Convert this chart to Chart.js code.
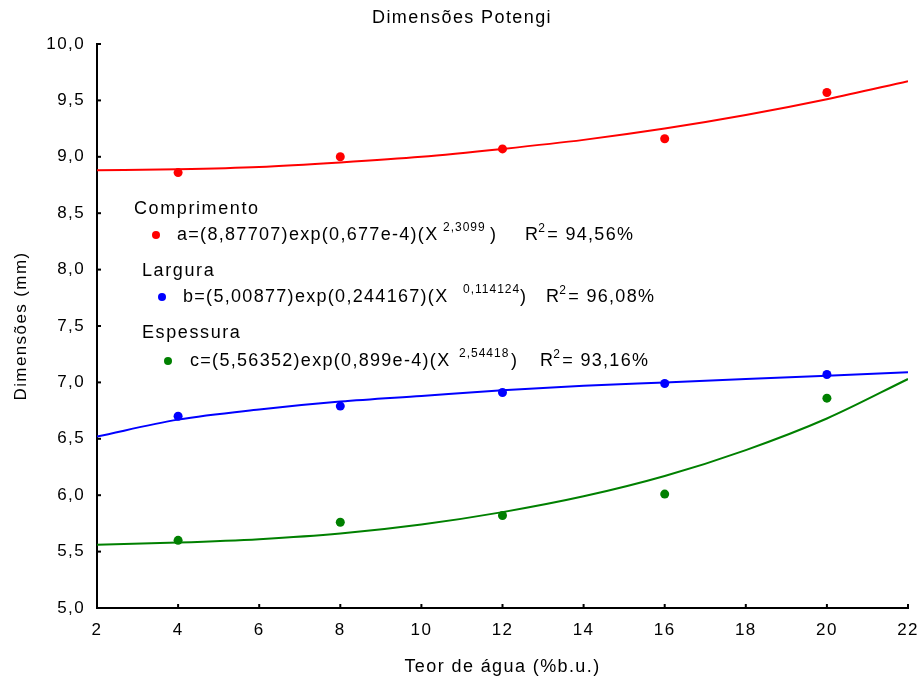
<!DOCTYPE html>
<html>
<head>
<meta charset="utf-8">
<title>Dimensões Potengi</title>
<script src="https://cdn.jsdelivr.net/npm/chart.js@4.4.0/dist/chart.umd.min.js"></script>
<style>
    html, body { margin: 0; padding: 0; background: #fff; }
    canvas { display: block; }
</style>
</head>
<body>
<canvas id="chart" width="924" height="686"></canvas>
<script>
// Observed values (teor de água, %b.u.)
const sampleX = [4, 8, 12, 16, 20];
const comprimento = [8.86, 9.00, 9.07, 9.16, 9.57];
const largura = [6.70, 6.79, 6.91, 6.99, 7.07];
const espessura = [5.60, 5.76, 5.82, 6.01, 6.86];

// Fitted curves, every 2 units
const fitX = [2, 4, 6, 8, 10, 12, 14, 16, 18, 20, 22];
const fitComprimento = [8.88, 8.89, 8.91, 8.95, 9.00, 9.07, 9.15, 9.25, 9.37, 9.51, 9.67];
const fitLargura = [6.52, 6.67, 6.76, 6.83, 6.88, 6.93, 6.97, 7.00, 7.03, 7.06, 7.09];
const fitEspessura = [5.56, 5.58, 5.61, 5.66, 5.74, 5.85, 5.99, 6.17, 6.40, 6.68, 7.03];

// Legend / equation labels
const seriesNames = ['Comprimento', 'Largura', 'Espessura'];
const seriesColors = ['#ff0000', '#0000ff', '#008000'];
const equations = ['a=(8,87707)exp(0,677e-4)(X', 'b=(5,00877)exp(0,244167)(X', 'c=(5,56352)exp(0,899e-4)(X'];
const exponents = ['2,3099', '0,114124', '2,54418'];
const r2Values = ['94,56%', '96,08%', '93,16%'];

const FONT = 'Liberation Sans, Arial, sans-serif';

function pts(xs, ys) {
    return xs.map((x, i) => ({ x: x, y: ys[i] }));
}

// Function to build a fitted curve dataset
function fitLine(ys, color) {
    return {
        data: pts(fitX, ys),
        borderColor: color,
        borderWidth: 2,
        pointRadius: 0,
        cubicInterpolationMode: 'monotone',
        fill: false
    };
}

// Function to build an observed points dataset
function dots(ys, color) {
    return {
        data: pts(sampleX, ys),
        showLine: false,
        pointRadius: 4.5,
        pointBackgroundColor: color,
        pointBorderColor: color,
        pointBorderWidth: 0
    };
}

// letter spacing like the original export
const spacing = {
    id: 'spacing',
    beforeUpdate(chart) { chart.ctx.letterSpacing = '1.4px'; },
    beforeDraw(chart) { chart.ctx.letterSpacing = '1.4px'; }
};

// inward ticks on left and bottom axes
const innerTicks = {
    id: 'innerTicks',
    afterDatasetsDraw(chart) {
        const ctx = chart.ctx;
        const { left, bottom } = chart.chartArea;
        ctx.save();
        ctx.strokeStyle = '#000';
        ctx.lineWidth = 2;
        chart.scales.x.ticks.forEach(t => {
            const px = chart.scales.x.getPixelForValue(t.value);
            ctx.beginPath();
            ctx.moveTo(px, bottom);
            ctx.lineTo(px, bottom - 4);
            ctx.stroke();
        });
        chart.scales.y.ticks.forEach(t => {
            const py = chart.scales.y.getPixelForValue(t.value);
            ctx.beginPath();
            ctx.moveTo(left, py);
            ctx.lineTo(left + 4, py);
            ctx.stroke();
        });
        ctx.restore();
    }
};

// equation annotations inside the plot
const equationsBox = {
    id: 'equationsBox',
    afterDraw(chart) {
        const ctx = chart.ctx;
        const rows = [
            { nameX: 134, nameY: 209, dotX: 156, eqX: 177, y: 235, supX: 443, closeX: 490, rX: 525 },
            { nameX: 142, nameY: 271, dotX: 162, eqX: 183, y: 297, supX: 463, closeX: 520, rX: 546 },
            { nameX: 142, nameY: 333, dotX: 168, eqX: 190, y: 361, supX: 459, closeX: 511, rX: 540 }
        ];
        ctx.save();
        ctx.fillStyle = '#000';
        ctx.textBaseline = 'middle';
        ctx.textAlign = 'left';
        rows.forEach((r, i) => {
            ctx.font = '18px ' + FONT;
            ctx.letterSpacing = '1.6px';
            ctx.fillStyle = '#000';
            ctx.fillText(seriesNames[i], r.nameX, r.nameY);
            ctx.letterSpacing = '1.3px';
            ctx.fillText(equations[i], r.eqX, r.y);
            ctx.fillText(')', r.closeX, r.y);
            ctx.fillText('R', r.rX, r.y);
            const rw = ctx.measureText('R').width;
            ctx.fillText('= ' + r2Values[i], r.rX + rw + 8, r.y);
            ctx.font = '12px ' + FONT;
            ctx.letterSpacing = '1px';
            ctx.fillText(exponents[i], r.supX, r.y - 7);
            ctx.letterSpacing = '0px';
            ctx.fillText('2', r.rX + rw - 1, r.y - 6);
            ctx.fillStyle = seriesColors[i];
            ctx.beginPath();
            ctx.arc(r.dotX, r.y, 4, 0, Math.PI * 2);
            ctx.fill();
        });
        ctx.restore();
    }
};

new Chart(document.getElementById('chart'), {
    type: 'line',
    data: {
        datasets: [
            fitLine(fitComprimento, seriesColors[0]),
            fitLine(fitLargura, seriesColors[1]),
            fitLine(fitEspessura, seriesColors[2]),
            dots(comprimento, seriesColors[0]),
            dots(largura, seriesColors[1]),
            dots(espessura, seriesColors[2])
        ]
    },
    options: {
        responsive: false,
        animation: false,
        devicePixelRatio: 1,
        layout: { padding: 0 },
        plugins: {
            legend: { display: false },
            tooltip: { enabled: false },
            title: {
                display: true,
                text: 'Dimensões Potengi',
                color: '#000',
                font: { family: FONT, size: 18, weight: 'normal', lineHeight: 1.2 },
                padding: { top: 7, bottom: 15.4 }
            }
        },
        scales: {
            x: {
                type: 'linear',
                min: 2,
                max: 22,
                ticks: {
                    stepSize: 2,
                    color: '#000',
                    padding: 12,
                    maxRotation: 0,
                    font: { family: FONT, size: 17 }
                },
                grid: { display: false, drawTicks: false },
                border: { display: true, color: '#000', width: 2 },
                title: {
                    display: true,
                    text: 'Teor de água (%b.u.)',
                    color: '#000',
                    font: { family: FONT, size: 18 },
                    padding: { top: 0, bottom: 8 }
                },
                afterFit(scale) {
                    scale.height = 78;
                    scale.paddingLeft = 0;
                    scale.paddingRight = 16;
                }
            },
            y: {
                min: 5,
                max: 10,
                ticks: {
                    stepSize: 0.5,
                    color: '#000',
                    padding: 12,
                    font: { family: FONT, size: 17 },
                    callback: v => v.toFixed(1).replace('.', ',')
                },
                grid: { display: false, drawTicks: false },
                border: { display: true, color: '#000', width: 2 },
                title: {
                    display: true,
                    text: 'Dimensões (mm)',
                    color: '#000',
                    font: { family: FONT, size: 17 },
                    padding: { top: 11, bottom: 0 }
                },
                afterFit(scale) { scale.width = 97; }
            }
        }
    },
    plugins: [spacing, innerTicks, equationsBox]
});
</script>
</body>
</html>
